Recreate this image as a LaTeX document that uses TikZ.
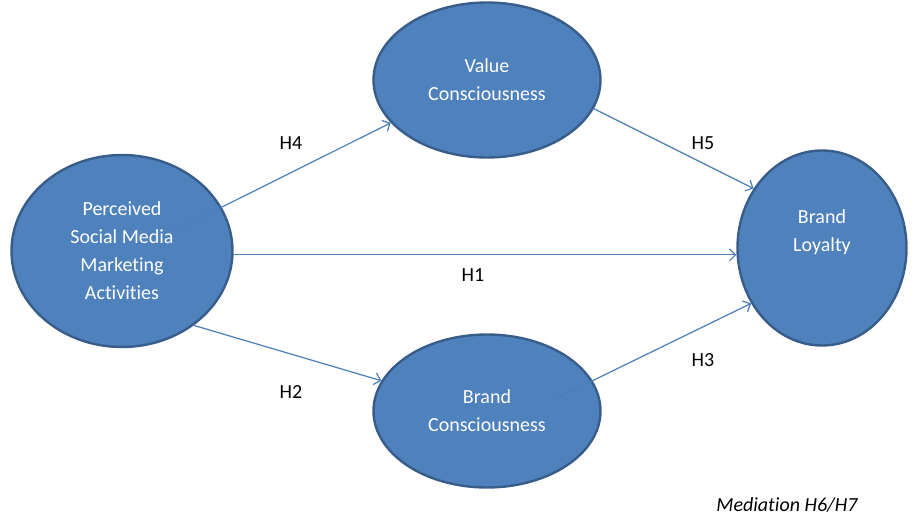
\documentclass[tikz,border=0pt]{standalone}
\usepackage{fontspec}
\setmainfont[RawFeature={-liga;-clig;-dlig;-calt}]{Carlito}
\usetikzlibrary{shapes.geometric}
\usetikzlibrary{arrows.meta}

\definecolor{ovalfill}{HTML}{4F81BD}
\definecolor{ovaldraw}{HTML}{385D8A}
\definecolor{pathline}{HTML}{4A7EBB}

\tikzset{
  oval/.style={ellipse, fill=ovalfill, draw=ovaldraw, line width=2.4pt, text=white,
    align=center, inner sep=0pt, font=\fontsize{20}{28}\selectfont},
  path/.style={draw=pathline, line width=1.2pt, -{Straight Barb[length=6pt,width=12pt]}},
  hyp/.style={font=\fontsize{20}{24}\selectfont}
}

\begin{document}
\begin{tikzpicture}[x=1pt,y=-1pt]
\useasboundingbox (0,0) rectangle (914,517);

\node[oval, minimum width=221pt, minimum height=192pt] (psm) at (122,251)
  {Perceived\\Social Media\\Marketing\\Activities};
\node[oval, minimum width=227pt, minimum height=155pt] (vc) at (487,80) {Value\\Consciousness};
\node[oval, minimum width=227pt, minimum height=153pt] (bc) at (487,411) {Brand\\Consciousness};
\node[oval, minimum width=169pt, minimum height=195pt, text depth=34pt] (bl) at (822,248) {Brand\\Loyalty};

\coordinate (h4s) at (172,232);
\coordinate (h3s) at (555,399);

\draw[path] (h4s) -- (vc.204);
\draw[path] (psm.-2) -- (bl.west |- psm.-2);
\draw[path] (psm.-46) -- (bc.164);
\draw[path] (vc.-15) -- (bl.139);
\draw[path] (h3s) -- (bl.218);

\node[hyp] (l4) at (291,143) {H4};
\node[hyp] (l1) at (473,275) {H1};
\node[hyp] (l2) at (291,392) {H2};
\node[hyp] (l5) at (703,143) {H5};
\node[hyp] (l3) at (703,360) {H3};
\node[hyp, font=\fontsize{20}{24}\selectfont\itshape] (med) at (787,505) {Mediation H6/H7};

\end{tikzpicture}
\end{document}
